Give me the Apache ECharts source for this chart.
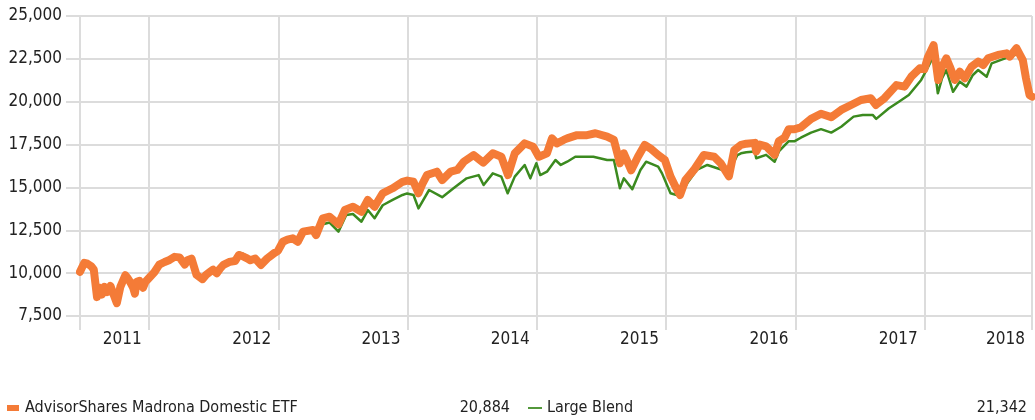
<!DOCTYPE html>
<html><head><meta charset="utf-8">
<script src="https://cdn.jsdelivr.net/npm/echarts@6.0.0/dist/echarts.min.js"></script>
<style>html,body{margin:0;padding:0;background:#fff}#c{width:1035px;height:420px}</style>
</head><body><div id="c"></div>
<script>
const seriesNames = ['AdvisorShares Madrona Domestic ETF', 'Large Blend'];
const legendValues = ['20,884', '21,342'];
const xStart = '2011-06-21';
const xEnd = '2018-10-31';
const yearStarts = ['2012-01-01','2013-01-01','2014-01-01','2015-01-01','2016-01-01','2017-01-01','2018-01-01'];
const yMin = 7500, yMax = 25000, yStep = 2500;

const etfDates = ['2011-06-21','2011-07-03','2011-07-12','2011-07-23','2011-07-30','2011-08-08','2011-08-15','2011-08-22','2011-08-29','2011-09-06','2011-09-15','2011-09-23','2011-10-03','2011-10-13','2011-10-27','2011-11-03','2011-11-09','2011-11-18','2011-11-23','2011-11-28','2011-12-06','2011-12-16','2011-12-23','2011-12-30',
'2012-01-17','2012-01-31','2012-02-15','2012-02-29','2012-03-14','2012-03-28','2012-04-12','2012-04-20','2012-05-01','2012-05-15','2012-06-01','2012-06-11','2012-06-22','2012-07-01','2012-07-11','2012-07-20','2012-07-30','2012-08-18','2012-09-01','2012-09-12','2012-09-21','2012-10-05','2012-10-14','2012-10-28','2012-11-13','2012-12-01','2012-12-10','2012-12-20','2012-12-31',
'2013-01-14','2013-01-27','2013-02-11','2013-02-25','2013-03-12','2013-04-09','2013-04-18','2013-05-07','2013-05-26','2013-06-20','2013-07-08','2013-07-31','2013-08-24','2013-09-11','2013-09-30','2013-10-23','2013-11-20','2013-12-18','2013-12-31',
'2014-01-18','2014-02-01','2014-02-12','2014-02-25','2014-03-25','2014-04-09','2014-05-03','2014-05-22','2014-06-09','2014-07-07','2014-08-03','2014-08-30','2014-09-23','2014-10-12','2014-10-31','2014-11-28','2014-12-22',
'2015-01-07','2015-01-30','2015-02-13','2015-02-27','2015-03-18','2015-03-28','2015-04-25','2015-05-23','2015-06-16','2015-07-19','2015-08-07','2015-08-24','2015-09-04','2015-09-25','2015-10-14','2015-11-02','2015-11-21','2015-12-10','2015-12-29',
'2016-01-14','2016-01-28','2016-02-10','2016-02-25','2016-03-20','2016-04-17','2016-05-16','2016-06-04','2016-06-27','2016-07-12','2016-07-31','2016-08-15','2016-09-08','2016-09-12','2016-09-22','2016-10-10','2016-11-03','2016-11-15','2016-12-01','2016-12-13','2016-12-30',
'2017-01-16','2017-02-14','2017-03-14','2017-04-12','2017-05-10','2017-06-07','2017-07-05','2017-08-02','2017-08-16','2017-09-09','2017-10-13','2017-11-05','2017-11-24','2017-12-18','2017-12-31',
'2018-01-10','2018-01-26','2018-02-08','2018-02-19','2018-03-03','2018-03-13','2018-03-27','2018-04-10','2018-04-24','2018-05-13','2018-06-01','2018-06-15','2018-06-29','2018-07-27','2018-08-20','2018-08-29','2018-09-17','2018-10-05','2018-10-14','2018-10-24','2018-10-31'];
const etfValues = [10080,10600,10550,10400,10200,8600,9150,8750,9200,8900,9250,8800,8250,9200,9880,9700,9500,9150,8800,9500,9550,9150,9500,9650,
10050,10500,10650,10770,10950,10920,10500,10750,10850,9900,9650,9900,10080,10200,9990,10250,10480,10670,10700,11060,11000,10860,10750,10850,10480,10860,11000,11160,11300,
11830,11950,12030,11830,12420,12520,12220,13200,13290,12850,13680,13870,13580,14270,13870,14660,14950,15330,15400,
15330,14660,15200,15720,15920,15430,15920,16020,16500,16890,16450,16990,16790,15720,16990,17570,17380,
16790,16990,17860,17570,17770,17860,18050,18050,18160,17960,17770,16410,16990,16000,16790,17480,17230,16890,16600,
15630,15040,14560,15430,16020,16890,16790,16410,15650,17180,17480,17550,17600,17100,17500,17400,16900,17700,17900,18400,18400,
18500,19000,19300,19100,19520,19810,20100,20200,19810,20200,20970,20880,21460,21950,21900,
22600,23300,21270,22040,22530,22040,21270,21750,21370,22040,22340,22140,22530,22730,22820,22630,23120,22430,21370,20390,20300];

const blendDates = ['2011-06-21','2011-07-03','2011-07-12','2011-07-23','2011-07-30','2011-08-08','2011-08-15','2011-08-22','2011-08-29','2011-09-06','2011-09-15','2011-09-23','2011-10-03','2011-10-13','2011-10-27','2011-11-03','2011-11-09','2011-11-18','2011-11-23','2011-11-28','2011-12-06','2011-12-16','2011-12-23','2011-12-30',
'2012-01-17','2012-01-31','2012-02-15','2012-02-29','2012-03-14','2012-03-28','2012-04-12','2012-04-20','2012-05-01','2012-05-15','2012-06-01','2012-06-11','2012-06-22','2012-07-01','2012-07-11','2012-07-20','2012-07-30','2012-08-18','2012-09-01','2012-09-12','2012-09-21','2012-10-05','2012-10-14','2012-10-28','2012-11-13','2012-12-01','2012-12-10','2012-12-20','2012-12-31',
'2013-01-14','2013-01-27','2013-02-11','2013-02-25','2013-03-12','2013-04-09','2013-04-18','2013-05-07','2013-05-26','2013-06-20','2013-07-12','2013-07-31','2013-08-24','2013-09-11','2013-09-30','2013-10-23','2013-11-20','2013-12-18','2013-12-31',
'2014-01-18','2014-02-01','2014-03-03','2014-04-09','2014-05-11','2014-06-17','2014-07-21','2014-08-04','2014-08-30','2014-09-23','2014-10-11','2014-10-31','2014-11-28','2014-12-14','2014-12-31',
'2015-01-11','2015-01-30','2015-02-23','2015-03-10','2015-03-28','2015-04-20','2015-06-10','2015-07-19','2015-08-07','2015-08-24','2015-09-04','2015-09-28','2015-10-21','2015-11-06','2015-12-10','2015-12-21',
'2016-01-14','2016-02-10','2016-03-01','2016-03-28','2016-04-27','2016-05-25','2016-06-27','2016-07-21','2016-07-31','2016-08-15','2016-09-08','2016-09-12','2016-10-10','2016-11-03','2016-11-15','2016-12-13','2016-12-30',
'2017-01-16','2017-02-14','2017-03-14','2017-04-12','2017-05-10','2017-06-14','2017-07-10','2017-08-07','2017-08-17','2017-09-22','2017-10-20','2017-11-17','2017-12-22',
'2018-01-11','2018-01-25','2018-02-07','2018-02-19','2018-03-03','2018-03-22','2018-04-10','2018-04-29','2018-05-17','2018-06-01','2018-06-25','2018-07-09','2018-08-16','2018-09-12','2018-09-26','2018-10-05','2018-10-14','2018-10-24','2018-10-31'];
const blendValues = [10050,10550,10500,10380,10150,8650,9200,8800,9250,8950,9300,8850,8350,9300,9950,9750,9600,9250,8900,9600,9650,9300,9650,9800,
10150,10550,10750,10850,11000,11000,10600,10800,10900,10000,9750,10000,10150,10300,10100,10400,10600,10800,10850,11200,11150,11000,10850,10900,10500,10850,10950,11100,11250,
11800,11900,12000,11800,12300,12400,12100,12850,12950,12420,13390,13450,13000,13680,13200,13960,14270,14560,14650,
14560,13780,14850,14430,14950,15530,15720,15140,15820,15630,14660,15630,16310,15530,16410,
15720,15920,16600,16310,16500,16790,16790,16600,16600,14950,15530,14900,16020,16500,16210,15820,
14660,14500,15240,16020,16310,16120,15900,16890,16990,17050,17100,16700,16900,16500,17100,17700,17700,
17900,18200,18400,18200,18540,19130,19230,19230,19000,19620,20000,20390,21270,
22040,22630,20490,21370,21850,20580,21170,20880,21560,21850,21460,22240,22530,22730,22800,22300,21200,20300,20200];

const FONT = "'DejaVu Sans Condensed','Liberation Sans Narrow',sans-serif";
const TEXT = '#222';
const GRID_COLOR = '#dcdcdc';
const ORANGE = '#f47b37';
const GREEN = '#3b8a1f';

const chart = echarts.init(document.getElementById('c'), null, {renderer: 'canvas'});
const p = s => +echarts.time.parse(s);
const tickVals = [p(xStart)].concat(yearStarts.map(p), [p(xEnd)]);
const labelVals = yearStarts.map(p).concat([p(xEnd)]);
const legendFont = {fontFamily: FONT, fontSize: 16, color: TEXT};

chart.setOption({
  animation: false,
  backgroundColor: '#fff',
  grid: {left: 80, right: 3, top: 16, bottom: 104, containLabel: false},
  legend: {
    left: 7, top: 400, width: 1028, padding: 0,
    itemWidth: 14, itemHeight: 6, itemGap: 18,
    selectedMode: false,
    data: [
      {name: seriesNames[0], icon: 'path://M0,0h12v6h-12z', itemStyle: {color: ORANGE}},
      {name: seriesNames[1], icon: 'path://M0,0h16v2h-16z', itemStyle: {color: GREEN}}
    ],
    formatter: name => {
      const i = seriesNames.indexOf(name);
      return '{n' + i + '|' + name + '}{v|' + legendValues[i] + '}';
    },
    textStyle: Object.assign({
      rich: {
        n0: Object.assign({width: 430}, legendFont),
        n1: Object.assign({width: 425}, legendFont),
        v: Object.assign({width: 55, align: 'right'}, legendFont)
      }
    }, legendFont)
  },
  xAxis: {
    type: 'value',
    min: p(xStart), max: p(xEnd),
    axisLine: {show: false},
    axisTick: {show: true, length: 14, customValues: tickVals, lineStyle: {color: GRID_COLOR, width: 2}},
    splitLine: {show: true, lineStyle: {color: GRID_COLOR, width: 2}},
    axisLabel: {
      customValues: labelVals,
      formatter: v => String(new Date(v - 86400000).getFullYear()),
      align: 'right', padding: [0, 7, 0, 0],
      margin: 15,
      fontFamily: FONT, fontSize: 17, color: TEXT
    }
  },
  yAxis: {
    type: 'value', min: yMin, max: yMax, interval: yStep,
    axisLine: {show: false},
    axisTick: {show: true, length: 14, lineStyle: {color: GRID_COLOR, width: 2}},
    splitLine: {show: true, lineStyle: {color: GRID_COLOR, width: 2}},
    axisLabel: {
      margin: 18,
      formatter: v => v.toLocaleString('en-US'),
      fontFamily: FONT, fontSize: 17, color: TEXT
    }
  },
  series: [
    {
      name: seriesNames[1], type: 'line', showSymbol: false, symbol: 'none', z: 2,
      data: blendDates.map((d, i) => [p(d), blendValues[i]]),
      lineStyle: {color: GREEN, width: 2.5, join: 'round', cap: 'round'},
      itemStyle: {color: GREEN}
    },
    {
      name: seriesNames[0], type: 'line', showSymbol: false, symbol: 'none', z: 3,
      data: etfDates.map((d, i) => [p(d), etfValues[i]]),
      lineStyle: {color: ORANGE, width: 8, join: 'round', cap: 'round'},
      itemStyle: {color: ORANGE}
    }
  ]
});
</script></body></html>
